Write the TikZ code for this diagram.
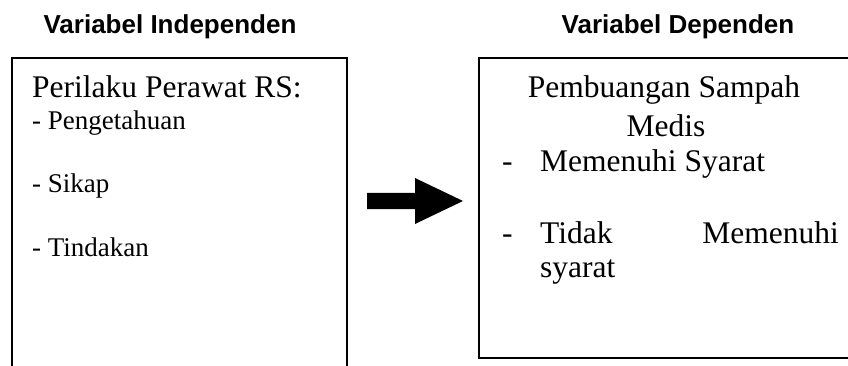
\documentclass[tikz,border=0pt]{standalone}
\usepackage{fontspec}
\setmainfont{Liberation Serif}
\newfontfamily\hdfont{Liberation Sans}
\begin{document}
\begin{tikzpicture}[x=1pt,y=-1pt,
  hd/.style={font=\hdfont\bfseries\fontsize{26}{30}\selectfont, anchor=base, inner sep=0},
  big/.style={font=\fontsize{31.5}{36}\selectfont, inner sep=0},
  small/.style={font=\fontsize{27}{32}\selectfont, inner sep=0, anchor=base west},
  frame/.style={draw, line width=1.8pt, inner sep=0, anchor=north west}]
\useasboundingbox (0,0) rectangle (848,366);
\node[hd] (h1) at (170,34) {Variabel Independen};
\node[hd] (h2) at (678,34) {Variabel Dependen};
\begin{scope}
  \clip (0,0) rectangle (848,366);
  \node[frame, minimum width=335pt, minimum height=340pt] (L) at (11,57) {};
  \node[frame, minimum width=400pt, minimum height=300pt] (R) at (478,57) {};
\end{scope}
% block arrow
\coordinate (as) at (367,193);
\coordinate (ae) at (463,201);
\fill (as) -- ++(48,0) -- ++(0,-15) -- (ae) -- ++(-48,23) -- ++(0,-15) -- ++(-48,0) -- cycle;
% left box text
\node[big, anchor=base west] (t0) at (32,98) {Perilaku Perawat RS:};
\node[small] (t1) at (32,130) {- Pengetahuan};
\node[small] (t2) at (32,193) {- Sikap};
\node[small] (t3) at (32,256) {- Tindakan};
% right box text
\node[big, anchor=base] (r0) at (664,98) {Pembuangan Sampah};
\node[big, anchor=base] (r1) at (666,137) {Medis};
\node[big, anchor=base west] (d1) at (502,172) {-};
\node[big, anchor=base west] (r2) at (540,172) {Memenuhi Syarat};
\node[big, anchor=base west] (d2) at (502,243) {-};
\node[big, anchor=base west] (r3) at (540,243) {Tidak};
\node[big, anchor=base east] (r4) at (839,243) {Memenuhi};
\node[big, anchor=base west] (r5) at (540,277) {syarat};
\end{tikzpicture}
\end{document}
